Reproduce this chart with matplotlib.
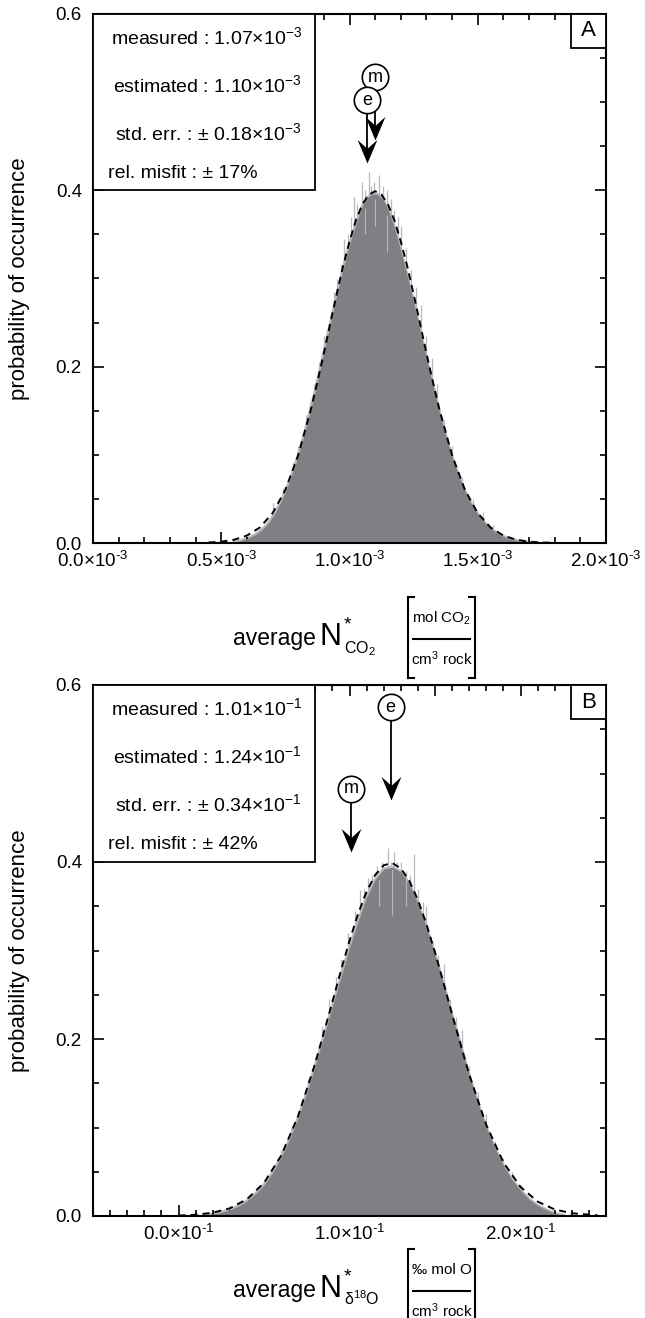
import numpy as np
import matplotlib
matplotlib.use('Agg')
import matplotlib.pyplot as plt
from matplotlib.ticker import MultipleLocator, FuncFormatter
from matplotlib.path import Path
from matplotlib.patches import Rectangle
from matplotlib.lines import Line2D

plt.rcParams['font.family'] = ['Liberation Sans', 'DejaVu Sans']
plt.rcParams['mathtext.fontset'] = 'custom'
plt.rcParams['mathtext.rm'] = 'Liberation Sans'
plt.rcParams['mathtext.it'] = 'Liberation Sans:italic'
plt.rcParams['mathtext.bf'] = 'Liberation Sans:bold'

W, H = 645, 1318

# ---------------- Panel A data (x in units of 1e-3) ----------------
a_hist_x = [0.55, 0.57, 0.59, 0.61, 0.63, 0.65, 0.67, 0.69, 0.71, 0.73, 0.75, 0.77,
            0.79, 0.81, 0.83, 0.85, 0.87, 0.89, 0.91, 0.93, 0.95, 0.97, 0.99, 1.01,
            1.03, 1.05, 1.07, 1.09, 1.11, 1.13, 1.15, 1.17, 1.19, 1.21, 1.23, 1.25,
            1.27, 1.29, 1.31, 1.33, 1.35, 1.37, 1.39, 1.41, 1.43, 1.45, 1.47, 1.49,
            1.51, 1.53, 1.55, 1.57, 1.59, 1.61, 1.63, 1.65, 1.67, 1.69, 1.71]
a_hist_y = [0.001, 0.002, 0.004, 0.006, 0.009, 0.013, 0.018, 0.025, 0.034, 0.045, 0.058, 0.073,
            0.090, 0.109, 0.130, 0.153, 0.177, 0.203, 0.229, 0.255, 0.281, 0.305, 0.328, 0.348,
            0.366, 0.382, 0.392, 0.396, 0.395, 0.390, 0.378, 0.362, 0.342, 0.320, 0.297, 0.273,
            0.248, 0.222, 0.197, 0.173, 0.149, 0.127, 0.107, 0.089, 0.073, 0.059, 0.047, 0.037,
            0.029, 0.022, 0.017, 0.012, 0.009, 0.006, 0.004, 0.003, 0.002, 0.001, 0.0005]
a_spike_x = [0.70, 0.74, 0.78, 0.80, 0.83, 0.845, 0.86, 0.88, 0.90, 0.92, 0.94, 0.95, 0.965,
             0.98, 0.995, 1.005, 1.018, 1.03, 1.049, 1.06, 1.076, 1.085, 1.095, 1.105, 1.115,
             1.13, 1.145, 1.16, 1.175, 1.19, 1.20, 1.22, 1.24, 1.26, 1.28, 1.30, 1.32, 1.34,
             1.37, 1.40, 1.44, 1.48, 1.52, 1.56]
a_spike_y = [0.045, 0.062, 0.092, 0.110, 0.145, 0.160, 0.180, 0.205, 0.235, 0.250, 0.285, 0.300,
             0.315, 0.345, 0.350, 0.370, 0.392, 0.385, 0.409, 0.400, 0.421, 0.405, 0.410, 0.400,
             0.417, 0.405, 0.400, 0.390, 0.378, 0.370, 0.360, 0.335, 0.310, 0.290, 0.270, 0.235,
             0.210, 0.180, 0.140, 0.110, 0.075, 0.050, 0.035, 0.020]
a_gap_x = [1.147, 1.10, 1.06]
a_gap_lo = [0.33, 0.36, 0.35]
a_gap_hi = [0.372, 0.39, 0.38]
a_fit_x = [0.45, 0.50, 0.55, 0.60, 0.65, 0.70, 0.75, 0.80, 0.85, 0.875, 0.90, 0.925, 0.95, 0.975,
           1.00, 1.025, 1.05, 1.075, 1.10, 1.125, 1.15, 1.175, 1.20, 1.225, 1.25, 1.275, 1.30,
           1.325, 1.35, 1.40, 1.45, 1.50, 1.55, 1.60, 1.65, 1.70, 1.75, 1.80]
a_fit_y = [0.0006, 0.0015, 0.0037, 0.0084, 0.0175, 0.0338, 0.0602, 0.0995, 0.152, 0.183, 0.215, 0.249,
           0.282, 0.314, 0.342, 0.366, 0.384, 0.395, 0.399, 0.395, 0.384, 0.366, 0.342, 0.314, 0.282,
           0.249, 0.215, 0.183, 0.152, 0.0995, 0.0602, 0.0338, 0.0175, 0.0084, 0.0037, 0.0015,
           0.0006, 0.0002]
a_stats = ['measured : 1.07×10$^{-3}$', 'estimated : 1.10×10$^{-3}$',
           'std. err. : ± 0.18×10$^{-3}$', 'rel. misfit : ± 17%']
a_measured, a_estimated = 1.07, 1.10

# ---------------- Panel B data (x in units of 1e-1) ----------------
b_hist_x = [0.15, 0.20, 0.25, 0.30, 0.35, 0.40, 0.45, 0.50, 0.55, 0.60, 0.65, 0.70, 0.75,
            0.80, 0.85, 0.90, 0.95, 1.00, 1.05, 1.10, 1.15, 1.20, 1.25, 1.30, 1.35, 1.40,
            1.45, 1.50, 1.55, 1.60, 1.65, 1.70, 1.75, 1.80, 1.85, 1.90, 1.95, 2.00, 2.05,
            2.10, 2.15, 2.20, 2.25]
b_hist_y = [0.001, 0.002, 0.004, 0.007, 0.011, 0.017, 0.025, 0.035, 0.049, 0.066, 0.087, 0.111, 0.139,
            0.170, 0.203, 0.237, 0.270, 0.303, 0.333, 0.360, 0.380, 0.392, 0.394, 0.389, 0.375, 0.353,
            0.326, 0.295, 0.262, 0.227, 0.193, 0.159, 0.128, 0.100, 0.077, 0.057, 0.041, 0.029, 0.019,
            0.012, 0.007, 0.003, 0.001]
b_spike_x = [0.60, 0.66, 0.72, 0.76, 0.80, 0.84, 0.88, 0.92, 0.95, 0.99, 1.03, 1.061, 1.085,
             1.108, 1.13, 1.16, 1.19, 1.225, 1.245, 1.26, 1.28, 1.30, 1.33, 1.355, 1.377, 1.40,
             1.43, 1.45, 1.49, 1.52, 1.55, 1.59, 1.62, 1.66, 1.70, 1.75, 1.80, 1.85, 1.90, 1.95, 2.00]
b_spike_y = [0.075, 0.100, 0.130, 0.155, 0.180, 0.215, 0.245, 0.270, 0.290, 0.320, 0.345, 0.368,
             0.370, 0.382, 0.385, 0.395, 0.400, 0.416, 0.400, 0.411, 0.400, 0.400, 0.390, 0.385,
             0.409, 0.370, 0.355, 0.350, 0.310, 0.295, 0.285, 0.245, 0.225, 0.210, 0.170, 0.140,
             0.115, 0.085, 0.065, 0.050, 0.035]
b_gap_x = [1.248, 1.17, 1.33]
b_gap_lo = [0.34, 0.35, 0.35]
b_gap_hi = [0.392, 0.38, 0.385]
b_fit_x = [0.00, 0.10, 0.20, 0.30, 0.40, 0.50, 0.60, 0.70, 0.80, 0.90, 0.95, 1.00, 1.05, 1.10, 1.15,
           1.20, 1.25, 1.30, 1.35, 1.40, 1.45, 1.50, 1.55, 1.60, 1.70, 1.80, 1.90, 2.00, 2.10,
           2.20, 2.30, 2.45]
b_fit_y = [0.0005, 0.0014, 0.0037, 0.0087, 0.0189, 0.0374, 0.0680, 0.1131, 0.1727, 0.242, 0.2773,
           0.311, 0.3414, 0.3666, 0.3853, 0.3963, 0.3988, 0.3928, 0.3786, 0.3572, 0.3297, 0.2979,
           0.2633, 0.2278, 0.1598, 0.1028, 0.0606, 0.0328, 0.0163, 0.0074, 0.0031, 0.0008]
b_stats = ['measured : 1.01×10$^{-1}$', 'estimated : 1.24×10$^{-1}$',
           'std. err. : ± 0.34×10$^{-1}$', 'rel. misfit : ± 42%']
b_measured, b_estimated = 1.01, 1.24

HIST_COLOR = '#7f8084'
SPIKE_COLOR = '#b7b8bb'


def frac(px, py):
    return px / W, 1 - py / H


def make_axes(fig, l, t, r, b):
    return fig.add_axes([l / W, 1 - b / H, (r - l) / W, (b - t) / H])


stealth = Path([(0, 0), (-0.42, 1.0), (0, 0.62), (0.42, 1.0), (0, 0)],
               [Path.MOVETO, Path.LINETO, Path.LINETO, Path.LINETO, Path.CLOSEPOLY])


def arrow(ax, x, y_circle, y_tip, label):
    ax.plot([x, x], [y_circle, y_tip + 0.01], color='k', lw=1.3, zorder=6, clip_on=False)
    ax.plot([x], [y_tip], marker=stealth, ms=34, color='k', mew=0, zorder=7, clip_on=False)
    ax.plot([x], [y_circle], marker='o', ms=19, mfc='white', mec='k', mew=1.2, zorder=8,
            clip_on=False)
    ax.text(x, y_circle, label, ha='center', va='center', fontsize=13, zorder=9)


def panel(ax, hx, hy, sx, sy, gx, glo, ghi, fx, fy, stats, xlim, lab_step, exp_label,
          letter, arrows):
    ax.vlines(sx, 0, sy, color=SPIKE_COLOR, lw=0.9, zorder=1)
    ax.plot(hx, hy, color=SPIKE_COLOR, lw=2.2, zorder=1.5)
    ax.fill_between(hx, 0, hy, color=HIST_COLOR, lw=0, zorder=2)
    ax.vlines(gx, glo, ghi, color=SPIKE_COLOR, lw=0.8, zorder=2.5)
    ax.plot(fx, fy, color='k', lw=1.4, ls=(0, (3.6, 2.6)), zorder=3)
    ax.set_xlim(*xlim)
    ax.set_ylim(0, 0.6)
    ax.xaxis.set_major_locator(MultipleLocator(0.5))
    ax.xaxis.set_minor_locator(MultipleLocator(0.1))
    ax.yaxis.set_major_locator(MultipleLocator(0.2))
    ax.yaxis.set_minor_locator(MultipleLocator(0.05))

    def xfmt(v, pos):
        if abs(v / lab_step - round(v / lab_step)) > 1e-6:
            return ''
        return '%.1f×10$^{%s}$' % (abs(v) if abs(v) < 1e-9 else v, exp_label)
    ax.xaxis.set_major_formatter(FuncFormatter(xfmt))
    ax.yaxis.set_major_formatter(FuncFormatter(lambda v, p: '%.1f' % v))
    ax.tick_params(which='both', direction='in', top=True, right=True, labelsize=13.5, width=1.2)
    ax.tick_params(which='major', length=8)
    ax.tick_params(which='minor', length=4)
    ax.tick_params(axis='y', which='major', pad=8)
    ax.tick_params(axis='x', which='major', pad=6)
    for s in ax.spines.values():
        s.set_linewidth(1.5)

    # stats box
    bw = (315 - 93) / 513
    ax.add_patch(Rectangle((0, 0.4 / 0.6), bw, 1 - 0.4 / 0.6, transform=ax.transAxes,
                           fc='white', ec='k', lw=1.3, zorder=10))
    ys = [23, 71, 119, 159]
    for i, (s, y) in enumerate(zip(stats, ys)):
        yy = 1 - y / 529
        if i < 3:
            ax.text((302 - 93) / 513, yy, s, transform=ax.transAxes, ha='right', va='center',
                    fontsize=14, zorder=11)
        else:
            ax.text((108 - 93) / 513, yy, s, transform=ax.transAxes, ha='left', va='center',
                    fontsize=14, zorder=11)
    # letter box
    ax.add_patch(Rectangle((1 - 35 / 513, 1 - 34 / 529), 35 / 513, 34 / 529,
                           transform=ax.transAxes, fc='white', ec='k', lw=1.3, zorder=10))
    ax.text(1 - 17.5 / 513, 1 - 17 / 529, letter, transform=ax.transAxes, ha='center',
            va='center', fontsize=16, zorder=11)
    for (x, yc, yt, lab) in arrows:
        arrow(ax, x, yc, yt, lab)


fig = plt.figure(figsize=(W / 100, H / 100), dpi=100)

axA = make_axes(fig, 93, 14, 606, 543)
panel(axA, a_hist_x, a_hist_y, a_spike_x, a_spike_y, a_gap_x, a_gap_lo, a_gap_hi,
      a_fit_x, a_fit_y, a_stats, (0, 2.0), 0.5, r'\text{-}3', 'A',
      [(a_estimated, 0.528, 0.457, 'm'), (a_measured, 0.502, 0.431, 'e')])

axB = make_axes(fig, 93, 685, 606, 1216)
panel(axB, b_hist_x, b_hist_y, b_spike_x, b_spike_y, b_gap_x, b_gap_lo, b_gap_hi,
      b_fit_x, b_fit_y, b_stats, (-0.5, 2.5), 1.0, r'\text{-}1', 'B',
      [(b_measured, 0.4825, 0.411, 'm'), (b_estimated, 0.575, 0.470, 'e')])

# y labels
for yc in [278.5, 950.5]:
    fig.text(*frac(20, yc), 'probability of occurrence', rotation=90, ha='center',
             va='center', fontsize=16)


def xlabel(y0, sub, top_unit, bot_unit):
    # y0: baseline pixel of 'average'
    fig.text(*frac(233, y0), 'average', ha='left', va='baseline', fontsize=16.5)
    fig.text(*frac(320, y0), 'N', ha='left', va='baseline', fontsize=22)
    fig.text(*frac(344, y0 - 16), '*', ha='left', va='baseline', fontsize=14)
    fig.text(*frac(344, y0 + 8), sub, ha='left', va='baseline', fontsize=11.5)
    xl, xr = 408, 475
    yt, yb = y0 - 48, y0 + 33
    for xb, d in [(xl, 6), (xr, -6)]:
        fig.add_artist(Line2D([xb / W, xb / W], [1 - yt / H, 1 - yb / H], color='k', lw=1.5))
        fig.add_artist(Line2D([xb / W, (xb + d) / W], [1 - yt / H, 1 - yt / H], color='k', lw=1.5))
        fig.add_artist(Line2D([xb / W, (xb + d) / W], [1 - yb / H, 1 - yb / H], color='k', lw=1.5))
    fig.add_artist(Line2D([413 / W, 470 / W], [1 - (y0 - 6) / H, 1 - (y0 - 6) / H], color='k', lw=1.5))
    fig.text(*frac(441.5, y0 - 27), top_unit, ha='center', va='center', fontsize=11)
    fig.text(*frac(441.5, y0 + 14), bot_unit, ha='center', va='center', fontsize=11)


xlabel(645, 'CO$_2$', 'mol CO$_2$', 'cm$^3$ rock')
xlabel(1297, 'δ$^{18}$O', '‰ mol O', 'cm$^3$ rock')

fig.savefig('out.png', dpi=100)
